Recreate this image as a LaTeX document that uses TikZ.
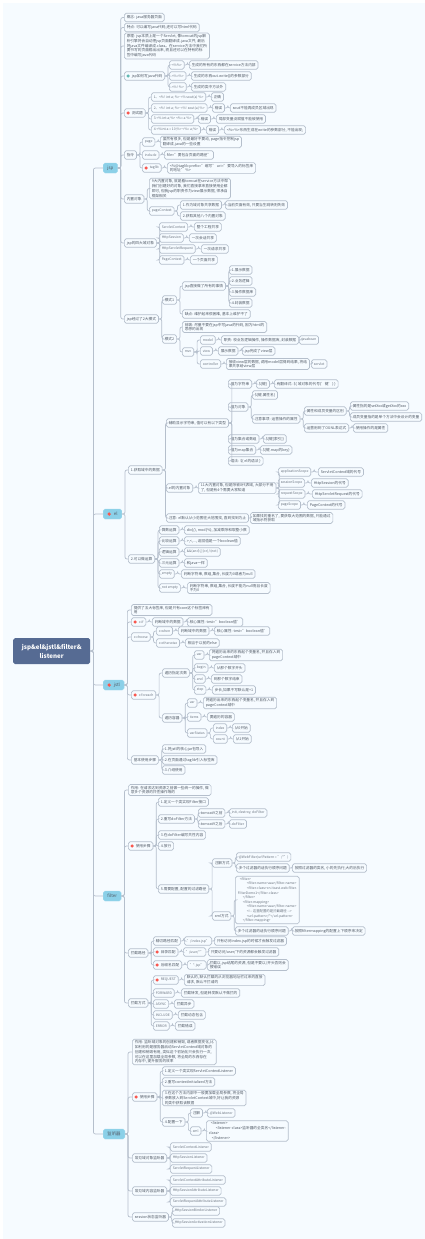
\documentclass[tikz,border=0pt]{standalone}
\usepackage{fontspec}
\usepackage{xcolor}
\setmainfont{Noto Sans CJK SC}
\usetikzlibrary{positioning, calc}

\definecolor{pagebg}{HTML}{F6FBFF}
\definecolor{boxline}{HTML}{B5BFCC}
\definecolor{boxtext}{HTML}{525B67}
\definecolor{codetext}{HTML}{6B7480}
\definecolor{rootfill}{HTML}{566B93}
\definecolor{topicfill}{HTML}{8BD0E8}
\definecolor{dotred}{HTML}{F9574E}
\definecolor{dotteal}{HTML}{62B8B2}

\begin{document}
\begin{tikzpicture}[
x=1pt, y=-1pt,
box/.style={rectangle, draw=boxline, line width=0.7pt, fill=pagebg, rounded corners=1.8pt, anchor=west, align=left, text=boxtext, font=\fontsize{3.7}{4.8}\selectfont, inner xsep=2.4pt, inner ysep=1.3pt, minimum height=8.6pt},
code/.style={box, text=codetext, font=\fontsize{3.4}{4.6}\selectfont},
topic/.style={rectangle, fill=topicfill, draw=topicfill!80!white, line width=0.4pt, rounded corners=1.8pt, anchor=west, text=boxtext, font=\fontsize{4.4}{5.4}\selectfont, inner xsep=4.2pt, inner ysep=1pt, minimum height=10pt},
root/.style={rectangle, fill=rootfill, rounded corners=1.8pt, anchor=west, align=center, text=white, font=\fontsize{6.2}{9}\selectfont\bfseries, text width=75pt, minimum height=26pt, inner sep=1pt},
flag/.style={path picture={\fill[#1] ([xshift=3.8pt]path picture bounding box.west) circle (1.7pt);}, execute at begin node=\hspace*{5pt}},
topicflag/.style={path picture={\fill[dotred] ([xshift=6pt]path picture bounding box.west) circle (1.8pt);}, execute at begin node=\hspace*{6.5pt}},
link/.style={draw=boxline, line width=0.7pt, rounded corners=2pt, to path={-- ++(3pt,0) |- (\tikztotarget)}}
]

\fill[pagebg] (3,3) rectangle (425,1239);
\useasboundingbox (0,0) rectangle (425,1239);

\node[root] (map_root) at (13,651) {jsp\&el\&jstl\&filter\&\\ listener};
\node[topic] (jsp) at (103,168) {jsp};
\node[topic, topicflag] (el) at (103,514) {el};
\node[topic, topicflag] (jstl) at (103,685) {jstl};
\node[topic] (filter) at (103,896) {filter};
\node[topic] (listener) at (103,1134) {监听器};

% jsp
\node[box] (jsp_concept) at (124,17.5) {概念: java服务器页面};
\node[box] (jsp_trait) at (124,27.5) {特点: 可以编写java代码,还可以写html代码};
\node[box] (jsp_theory) at (124,46) {原理: jsp本质上是一个Servlet, 像tomcat的jsp解\\析引擎将会自动把jsp页面翻译成.java文件, 最后\\将java文件编译成.class。在service方法中我们所\\要书写的页面输出出来, 而且还可以在特有的标\\签中编写java代码};
\node[box, flag=dotteal] (jsp_write) at (124,76) {jsp如何写java代码};
\node[code] (write_a) at (169,65) {<\%\%>};
\node[box] (write_a_text) at (189,65) {生成的所有的东西都在service方法内部};
\node[code] (write_b) at (169,76) {<\%=\%>};
\node[box] (write_b_text) at (191,76) {生成的东西out.write()的参数部分};
\node[code] (write_c) at (169,87) {<\%! \%>};
\node[box] (write_c_text) at (191,87) {生成的类中方法外};

\node[box, flag=dotred] (jsp_test) at (124,113) {测试题};
\node[code] (test_a) at (151,97) {1、<\%! int a; \%> <\% sout(a) \%>};
\node[box] (test_a_res) at (211,97) {正确};
\node[code] (test_b) at (151,108) {2、<\%! int a; \%> <\%! sout(a) \%>};
\node[box] (test_b_res) at (212,108) {错误};
\node[box] (test_b_why) at (230,108) {sout不能再成员区域出现};
\node[code] (test_c) at (151,119) {3.<\% int a;\%> <\%= a \%>};
\node[box] (test_c_res) at (198,119) {错误};
\node[box] (test_c_why) at (216,119) {局部变量没赋值不能被使用};
\node[code] (test_d) at (151,130) {4.<\%int a = 10;\%> <\%= a;\%>};
\node[box] (test_d_res) at (206,130) {错误};
\node[box] (test_d_why) at (224,130) {<\%=\%>东西生成在write的参数部分, 不能出现;};

\node[box] (jsp_cmd) at (124,155) {指令};
\node[code] (cmd_page) at (142,142) {page};
\node[box] (cmd_page_text) at (160,142) {虽然有很多, 但是最好不要动, page指令控制jsp\\翻译成.java的一些设置};
\node[code] (cmd_include) at (142,155) {include};
\node[box] (cmd_include_text) at (164,155) {file="要包含页面的路径"};
\node[code, flag=dotred] (cmd_taglib) at (142,168) {taglib};
\node[box] (cmd_taglib_text) at (167,168) {<\%@taglib prefix="缩写" uri="要导入的标签库\\的地址" \%>};

\node[box] (jsp_inner) at (124,199) {内置对象};
\node[box] (inner_text) at (149,188.5) {9大内置对象, 就是看tomcat在service方法中帮\\我们创建好的对象, 我们直接拿来直接使用全都\\即可, 但我jsp的职责作为view展示数据, 师承自\\框架相关};
\node[code] (inner_page) at (149,211) {pageContext};
\node[box] (inner_page_a) at (180,205) {1.作为域对象共享数据};
\node[box] (inner_page_a_text) at (225,205) {当前页面有效, 只要当生跳转则失效};
\node[box] (inner_page_b) at (180,216) {2.获取其他八个内置对象};

\node[box] (jsp_scope) at (124,243) {jsp的四大域对象};
\node[code] (scope_a) at (159,227) {ServletContext};
\node[box] (scope_a_text) at (194,227) {整个工程共享};
\node[code] (scope_b) at (159,238) {HttpSession};
\node[box] (scope_b_text) at (189,238) {一次会话共享};
\node[code] (scope_c) at (159,249) {HttpServletRequest};
\node[box] (scope_c_text) at (201,249) {一次请求共享};
\node[code] (scope_d) at (159,260) {PageContext};
\node[box] (scope_d_text) at (190,260) {一个页面共享};

\node[box] (jsp_mode) at (124,319) {jsp经过了2大模式};
\node[box] (mode_one) at (162,300) {模式1};
\node[box] (mode_one_all) at (182,286) {jsp直接做了所有的事情};
\node[box] (all_a) at (229,270) {1.展示数据};
\node[box] (all_b) at (229,281) {2.业务逻辑};
\node[box] (all_c) at (229,292) {3.操作数据库};
\node[box] (all_d) at (229,303) {4.封装数据};
\node[box] (mode_one_bad) at (182,314) {缺点: 维护起来很困难, 基本上维护不了};
\node[box] (mode_two) at (162,339) {模式2};
\node[box] (mode_two_text) at (182,327) {前端: 尽量不要在jsp中写java的代码, 因为html的\\思想的出现};
\node[code] (mvc) at (182,352) {mvc};
\node[code] (mvc_model) at (200,340) {model};
\node[box] (mvc_model_text) at (221,340) {职责: 校业务逻辑操作, 操作数据库, 封装数据};
\node[code] (mvc_model_end) at (299,340) {javabean};
\node[code] (mvc_view) at (200,351) {view};
\node[box] (mvc_view_text) at (218,351) {展示数据};
\node[box] (mvc_view_end) at (242,351) {jsp完成了view层};
\node[code] (mvc_ctrl) at (200,364) {controller};
\node[box] (mvc_ctrl_text) at (226,364) {接收view层的数据, 调用model层得到结果, 将结\\果共享给view层};
\node[code] (mvc_ctrl_end) at (311,364) {servlet};

% el
\node[box] (el_get) at (128,470) {1.获取域中的数据};
\node[box] (get_types) at (166,423) {辅助显示字符串, 值可以有以下类型};
\node[box] (type_str) at (228,384) {值为字符串};
\node[box] (type_str_a) at (256,384) {\$\{键\}};
\node[box] (type_str_b) at (274,384) {有翻译式: \$\{ 域对象的代号('键') \}};
\node[box] (type_obj) at (228,407) {值为对象};
\node[box] (type_obj_a) at (252,395) {\$\{键.属性名\}};
\node[box] (type_obj_b) at (252,419) {注意事项: 运营操作的属性};
\node[box] (obj_diff) at (304,411) {属性和成员变量的区别};
\node[box] (obj_diff_a) at (350,406) {属性指的是setXxx或getXxx的xxx};
\node[box] (obj_diff_b) at (350,417) {成员变量指的是单个方法中会设计的变量};
\node[box] (obj_ognl) at (304,428) {运营用到了OGNL表达式};
\node[box] (obj_ognl_a) at (353,428) {使用操作的是属性};
\node[box] (type_arr) at (228,439) {值为集合或数组};
\node[box] (type_arr_a) at (263,439) {\$\{键[索引]\}};
\node[box] (type_map) at (228,450) {值为map集合};
\node[box] (type_map_a) at (260,450) {\$\{键.map的key\}};
\node[box] (type_syntax) at (228,461) {语法: \$\{ el的语法 \}};
\node[box] (get_inner) at (166,488) {el的内置对象};
\node[box] (get_inner_text) at (198,488) {11大内置对象, 但是除被8代表域, 大部分不用\\了, 但是有4个需要大家知道};
\node[code] (sc_app) at (278,472) {applicationScope};
\node[box] (sc_app_text) at (318,472) {ServletContext域的代号};
\node[code] (sc_ses) at (278,483) {sessionScope};
\node[box] (sc_ses_text) at (311,483) {HttpSession的代号};
\node[code] (sc_req) at (278,494) {requestScope};
\node[box] (sc_req_text) at (312,494) {HttpServletRequest的代号};
\node[code] (sc_page) at (278,505) {pageScope};
\node[box] (sc_page_text) at (307,505) {PageContext的代号};
\node[box] (get_note) at (166,518) {注意: el默认从小范围往大范围找, 直到找到为止};
\node[box] (get_note_text) at (250,518) {如果找的重名了, 要获取大范围的数据, 只能通过\\域指示符获取};

\node[box] (el_calc) at (128,559) {2.可以做运算};
\node[box] (calc_a) at (159,530) {算数运算};
\node[box] (calc_a_text) at (184,530) {div(/), mod(\%), 加减乘除和取整小数};
\node[box] (calc_b) at (159,541) {比较运算};
\node[box] (calc_b_text) at (184,541) {>,<,..., 返回值是一个boolean值};
\node[box] (calc_c) at (159,552) {逻辑运算};
\node[code] (calc_c_text) at (184,552) {\&\&(and),||(or),!(not)};
\node[box] (calc_d) at (159,563) {三元运算};
\node[box] (calc_d_text) at (184,563) {和java一样};
\node[code] (calc_e) at (159,574) {empty};
\node[box] (calc_e_text) at (181,574) {判断字符串, 数组,集合, 长度为0或者为null};
\node[code] (calc_f) at (159,588) {not empty};
\node[box] (calc_f_text) at (187,588) {判断字符串, 数组,集合, 长度不能为null而且长度\\不为0};

% jstl
\node[box] (jstl_intro) at (131,610) {提供了五大标签库, 但是只有core这个标签库有\\用};
\node[code, flag=dotred] (c_if) at (131,622) {c:if};
\node[box] (c_if_a) at (152,622) {判断域中的数据};
\node[box] (c_if_b) at (187,622) {核心属性: test="boolean值"};
\node[code] (c_choose) at (131,637) {c:choose};
\node[code] (c_when) at (156,631) {c:when};
\node[box] (c_when_a) at (178,631) {判断域中的数据};
\node[box] (c_when_b) at (214,631) {核心属性: test="boolean值"};
\node[code] (c_other) at (156,643) {c:otherwise};
\node[box] (c_other_a) at (185,643) {相当于以前的else};
\node[code, flag=dotred] (c_each) at (131,695) {c:foreach};
\node[box] (each_num) at (162,673) {遍历指定次数};
\node[code] (num_var) at (194,655) {var};
\node[box] (num_var_a) at (209,655) {将遍历出来的东西起个变量名, 并且存入到\\pageContext域中};
\node[code] (num_begin) at (194,668) {begin};
\node[box] (num_begin_a) at (214,668) {从那个数字开头};
\node[code] (num_end) at (194,679) {end};
\node[box] (num_end_a) at (211,679) {到那个数字结束};
\node[code] (num_step) at (194,690) {step};
\node[box] (num_step_a) at (212,690) {步长,如果不写默认是+1};
\node[box] (each_box) at (162,718) {遍历容器};
\node[code] (box_var) at (187,703) {var};
\node[box] (box_var_a) at (203,703) {将遍历出来的东西起个变量名, 并且存入到\\pageContext域中};
\node[code] (box_items) at (187,717) {items};
\node[box] (box_items_a) at (207,717) {要遍历的容器};
\node[code] (box_status) at (187,733) {varStatus};
\node[code] (st_index) at (213,728) {index};
\node[box] (st_index_a) at (232,728) {从0开始};
\node[code] (st_count) at (213,739) {count};
\node[box] (st_count_a) at (233,739) {从1开始};
\node[box] (jstl_steps) at (131,760) {基本使用步骤};
\node[box] (jstl_step_a) at (162,749) {1.将jstl的核心jar包导入};
\node[box] (jstl_step_b) at (162,760) {2.在页面通过taglib引入标签库};
\node[box] (jstl_step_c) at (162,770) {3.介绍使用};

% filter
\node[box] (filter_use) at (128,790) {作用: 在请求达到资源之前做一些统一的操作, 做\\意多个资源的共性操作等的};
\node[box, flag=dotred] (filter_steps) at (128,846) {使用步骤};
\node[box] (fs_a) at (158,802) {1.定义一个类实现Filter接口};
\node[box] (fs_b) at (158,819) {2.重写doFilter方法};
\node[box] (fs_b_old) at (198,813) {tomcat9之前};
\node[code] (fs_b_old_a) at (229,813) {init, destroy, doFilter};
\node[box] (fs_b_new) at (198,824) {tomcat9之后};
\node[code] (fs_b_new_a) at (229,824) {doFilter};
\node[box] (fs_c) at (158,835) {3.在doFilter编写共性内容};
\node[box] (fs_d) at (158,846) {4.放行};
\node[box] (fs_e) at (158,889) {5.需要配置, 配置的过滤路径};
\node[box] (cfg_note) at (212,863) {注解方式};
\node[code] (cfg_note_a) at (236,857) {@WebFilter(urlPattern = "/*")};
\node[box] (cfg_note_b) at (236,868) {多个过滤器的话执行顺序问题};
\node[box] (cfg_note_c) at (292,868) {按照过滤器的类名, 小的先执行,大的后执行};
\node[box] (cfg_xml) at (212,916) {xml方式};
\node[code] (cfg_xml_a) at (235,900) {\hspace*{2pt}<filter>\\\hspace*{9pt}<filter-name>aaa</filter-name>\\\hspace*{9pt}<filter-class>cn.itcast.web.filter.\\FilterDemo1</filter-class>\\\hspace*{5pt}</filter>\\\hspace*{5pt}<filter-mapping>\\\hspace*{9pt}<filter-name>aaa</filter-name>\\\hspace*{9pt}<!-{}- 这里配置的是拦截路径 -{}->\\\hspace*{9pt}<url-pattern>/*</url-pattern>\\\hspace*{5pt}</filter-mapping>};
\node[box] (cfg_xml_b) at (235,931) {多个过滤器的话执行顺序问题};
\node[box] (cfg_xml_c) at (292,931) {按照filtermapping的配置上下顺序来决定};

\node[box] (filter_path) at (128,953) {拦截路径};
\node[box] (path_a) at (153,941) {精切路径匹配};
\node[code] (path_a_b) at (184,941) {"/index.jsp"};
\node[box] (path_a_c) at (214,941) {只有访问index.jsp的时候才会触发过滤器};
\node[box, flag=dotred] (path_b) at (153,952) {目录匹配};
\node[code] (path_b_b) at (183,952) {"/user/*"};
\node[box] (path_b_c) at (208,952) {只要访问/user/下的资源都会触发过滤器};
\node[box, flag=dotred] (path_c) at (153,965) {后缀名匹配};
\node[code] (path_c_b) at (187,965) {"*.jsp"};
\node[box] (path_c_c) at (207,965) {拦截以.jsp结尾的资源, 但是不要以/开头否则会\\报错误};

\node[box] (filter_way) at (128,1003) {拦截方式};
\node[code, flag=dotred] (way_a) at (153,980) {REQUEST};
\node[box] (way_a_b) at (184,980) {默认的, 默认拦截的从浏览器地址栏过来的直接\\请求, 默认不拦请的};
\node[code] (way_b) at (153,993) {FORWARD};
\node[box] (way_b_b) at (181,993) {拦截转发, 但是转发默认不做拦的};
\node[code] (way_c) at (153,1004) {ASYNC};
\node[box] (way_c_b) at (174,1004) {拦截异步};
\node[code] (way_d) at (153,1015) {INCLUDE};
\node[box] (way_d_b) at (178,1015) {拦截动态包含};
\node[code] (way_e) at (153,1026) {ERROR};
\node[box] (way_e_b) at (175,1026) {拦截错误};

% listener
\node[box] (lis_use) at (132,1052) {作用: 监听域对象的创建和销毁, 或者数据变化,比\\如利用的是服务器启动ServletContext域对象的\\创建和销毁有用, 类似这个初始化只会执行一次,\\可以在这里加载全局参数, 将全局的东西存在\\内存中, 提升服务的效率};
\node[box, flag=dotred] (lis_steps) at (132,1097) {使用步骤};
\node[box] (ls_a) at (162,1071) {1.定义一个类实现ServletContextListener};
\node[box] (ls_b) at (162,1082) {2.重写contextInitialized方法};
\node[box] (ls_c) at (162,1098) {3.在这个方法内部中一般要加载全局参数, 将全局\\参数放入到ServletContext域中,好让我的资源\\的类中获取该数据};
\node[box] (ls_d) at (162,1122) {4.配置一下};
\node[box] (ls_note) at (190,1113) {注解};
\node[code] (ls_note_a) at (207,1113) {@WebListener};
\node[code] (ls_xml) at (190,1131) {xml};
\node[box] (ls_xml_a) at (206,1131) {\hspace*{2pt}<listener>\\\hspace*{7pt}<listener-class>监听器的全类名</listener-\\class>\\\hspace*{3pt}</listener>};
\node[box] (lis_life) at (132,1158) {常见域对象监听器};
\node[code] (life_a) at (170,1147) {ServletContextListener};
\node[code] (life_b) at (170,1158) {HttpSessionListener};
\node[code] (life_c) at (170,1169) {ServletRequestListener};
\node[box] (lis_attr) at (132,1191) {常见域内容监听器};
\node[code] (attr_a) at (170,1180) {ServletContextAttributeListener};
\node[code] (attr_b) at (170,1191) {HttpSessionAttributeListener};
\node[code] (attr_c) at (170,1202) {ServletRequestAttributeListener};
\node[box] (lis_state) at (132,1217) {session状态监听器};
\node[code] (state_a) at (172,1211) {HttpSessionBinderListener};
\node[code] (state_b) at (172,1223) {HttpSessionActivationListener};

% connectors, parent/children
\foreach \parent/\kids in {
map_root/{jsp,el,jstl,filter,listener},
jsp/{jsp_concept,jsp_trait,jsp_theory,jsp_write,jsp_test,jsp_cmd,jsp_inner,jsp_scope,jsp_mode},
jsp_write/{write_a,write_b,write_c},
write_a/{write_a_text}, write_b/{write_b_text}, write_c/{write_c_text},
jsp_test/{test_a,test_b,test_c,test_d},
test_a/{test_a_res}, test_b/{test_b_res}, test_b_res/{test_b_why}, test_c/{test_c_res}, test_c_res/{test_c_why}, test_d/{test_d_res}, test_d_res/{test_d_why},
jsp_cmd/{cmd_page,cmd_include,cmd_taglib},
cmd_page/{cmd_page_text}, cmd_include/{cmd_include_text}, cmd_taglib/{cmd_taglib_text},
jsp_inner/{inner_text,inner_page},
inner_page/{inner_page_a,inner_page_b}, inner_page_a/{inner_page_a_text},
jsp_scope/{scope_a,scope_b,scope_c,scope_d},
scope_a/{scope_a_text}, scope_b/{scope_b_text}, scope_c/{scope_c_text}, scope_d/{scope_d_text},
jsp_mode/{mode_one,mode_two},
mode_one/{mode_one_all,mode_one_bad}, mode_one_all/{all_a,all_b,all_c,all_d},
mode_two/{mode_two_text,mvc}, mvc/{mvc_model,mvc_view,mvc_ctrl},
mvc_model/{mvc_model_text}, mvc_model_text/{mvc_model_end}, mvc_view/{mvc_view_text}, mvc_view_text/{mvc_view_end}, mvc_ctrl/{mvc_ctrl_text}, mvc_ctrl_text/{mvc_ctrl_end},
el/{el_get,el_calc},
el_get/{get_types,get_inner,get_note},
get_types/{type_str,type_obj,type_arr,type_map,type_syntax},
type_str/{type_str_a}, type_str_a/{type_str_b},
type_obj/{type_obj_a,type_obj_b}, type_obj_b/{obj_diff,obj_ognl},
obj_diff/{obj_diff_a,obj_diff_b}, obj_ognl/{obj_ognl_a},
type_arr/{type_arr_a}, type_map/{type_map_a},
get_inner/{get_inner_text}, get_inner_text/{sc_app,sc_ses,sc_req,sc_page},
sc_app/{sc_app_text}, sc_ses/{sc_ses_text}, sc_req/{sc_req_text}, sc_page/{sc_page_text},
get_note/{get_note_text},
el_calc/{calc_a,calc_b,calc_c,calc_d,calc_e,calc_f},
calc_a/{calc_a_text}, calc_b/{calc_b_text}, calc_c/{calc_c_text}, calc_d/{calc_d_text}, calc_e/{calc_e_text}, calc_f/{calc_f_text},
jstl/{jstl_intro,c_if,c_choose,c_each,jstl_steps},
c_if/{c_if_a}, c_if_a/{c_if_b},
c_choose/{c_when,c_other}, c_when/{c_when_a}, c_when_a/{c_when_b}, c_other/{c_other_a},
c_each/{each_num,each_box},
each_num/{num_var,num_begin,num_end,num_step},
num_var/{num_var_a}, num_begin/{num_begin_a}, num_end/{num_end_a}, num_step/{num_step_a},
each_box/{box_var,box_items,box_status},
box_var/{box_var_a}, box_items/{box_items_a}, box_status/{st_index,st_count},
st_index/{st_index_a}, st_count/{st_count_a},
jstl_steps/{jstl_step_a,jstl_step_b,jstl_step_c},
filter/{filter_use,filter_steps,filter_path,filter_way},
filter_steps/{fs_a,fs_b,fs_c,fs_d,fs_e},
fs_b/{fs_b_old,fs_b_new}, fs_b_old/{fs_b_old_a}, fs_b_new/{fs_b_new_a},
fs_e/{cfg_note,cfg_xml},
cfg_note/{cfg_note_a,cfg_note_b}, cfg_note_b/{cfg_note_c},
cfg_xml/{cfg_xml_a,cfg_xml_b}, cfg_xml_b/{cfg_xml_c},
filter_path/{path_a,path_b,path_c},
path_a/{path_a_b}, path_a_b/{path_a_c}, path_b/{path_b_b}, path_b_b/{path_b_c}, path_c/{path_c_b}, path_c_b/{path_c_c},
filter_way/{way_a,way_b,way_c,way_d,way_e},
way_a/{way_a_b}, way_b/{way_b_b}, way_c/{way_c_b}, way_d/{way_d_b}, way_e/{way_e_b},
listener/{lis_use,lis_steps,lis_life,lis_attr,lis_state},
lis_steps/{ls_a,ls_b,ls_c,ls_d},
ls_d/{ls_note,ls_xml}, ls_note/{ls_note_a}, ls_xml/{ls_xml_a},
lis_life/{life_a,life_b,life_c},
lis_attr/{attr_a,attr_b,attr_c},
lis_state/{state_a,state_b}}
  \foreach \kid in \kids
    \draw[link] (\parent.east) to (\kid.west);

\end{tikzpicture}
\end{document}
